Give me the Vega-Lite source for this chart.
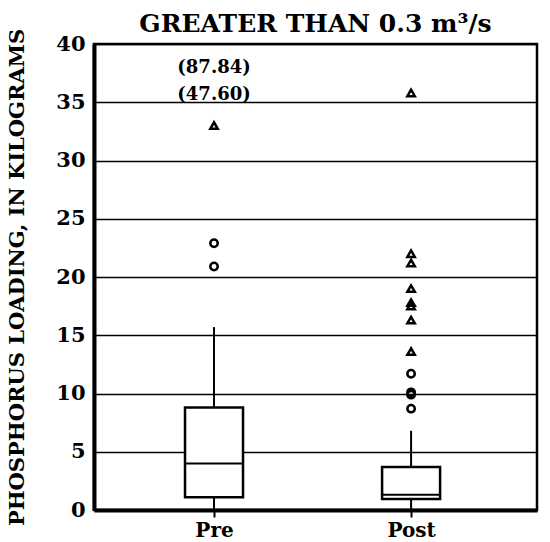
{
  "$schema": "https://vega.github.io/schema/vega-lite/v6.json",
  "width": 443,
  "height": 466,
  "autosize": {"type": "none"},
  "padding": {"left": 94, "top": 44, "right": 13, "bottom": 32},
  "background": "white",
  "title": {
    "text": "GREATER THAN 0.3 m³/s",
    "font": "DejaVu Serif",
    "fontSize": 25,
    "fontWeight": "bold",
    "color": "black",
    "anchor": "middle",
    "offset": -9
  },
  "config": {
    "view": {"stroke": "black", "strokeWidth": 2.5},
    "axis": {"labelFont": "DejaVu Serif", "labelFontWeight": "bold", "labelColor": "black", "titleFont": "DejaVu Serif", "titleFontWeight": "bold", "titleColor": "black"}
  },
  "datasets": {
    "boxes": [
      {"group": "Pre", "lower": 0, "q1": 1.1, "median": 4.0, "q3": 8.8, "upper": 15.7},
      {"group": "Post", "lower": 0, "q1": 0.95, "median": 1.3, "q3": 3.7, "upper": 6.8}
    ],
    "outliers": [
      {"group": "Pre", "value": 33.0, "kind": "triangle"},
      {"group": "Pre", "value": 22.9, "kind": "circle"},
      {"group": "Pre", "value": 20.9, "kind": "circle"},
      {"group": "Post", "value": 35.8, "kind": "triangle"},
      {"group": "Post", "value": 22.0, "kind": "triangle"},
      {"group": "Post", "value": 21.2, "kind": "triangle"},
      {"group": "Post", "value": 19.0, "kind": "triangle"},
      {"group": "Post", "value": 17.8, "kind": "triangle"},
      {"group": "Post", "value": 17.5, "kind": "triangle"},
      {"group": "Post", "value": 16.3, "kind": "triangle"},
      {"group": "Post", "value": 13.6, "kind": "triangle"},
      {"group": "Post", "value": 11.7, "kind": "circle"},
      {"group": "Post", "value": 10.1, "kind": "circle"},
      {"group": "Post", "value": 9.9, "kind": "circle"},
      {"group": "Post", "value": 8.7, "kind": "circle"}
    ],
    "notes": [
      {"group": "Pre", "label": "(87.84)", "level": 37.9},
      {"group": "Pre", "label": "(47.60)", "level": 35.6}
    ]
  },
  "encoding": {
    "x": {
      "field": "group",
      "type": "nominal",
      "sort": ["Pre", "Post"],
      "scale": {"type": "point", "domain": ["Pre", "Post"], "padding": 0.624, "align": 0.488},
      "axis": {"title": null, "labelAngle": 0, "labelFontSize": 20, "labelPadding": 3, "ticks": true, "tickSize": 7, "tickWidth": 2, "tickColor": "black", "domain": true, "domainColor": "black", "domainWidth": 4, "grid": false}
    }
  },
  "layer": [
    {
      "data": {"name": "boxes"},
      "mark": {"type": "rule", "color": "black", "strokeWidth": 2},
      "encoding": {
        "y": {"field": "lower", "type": "quantitative", "scale": {"domain": [0, 40]},
          "axis": {"title": "PHOSPHORUS LOADING, IN KILOGRAMS", "titleFontSize": 21, "titlePadding": 28, "values": [0,5,10,15,20,25,30,35,40], "labelFontSize": 21, "labelPadding": 9, "ticks": false, "domain": true, "domainColor": "black", "domainWidth": 4, "grid": true, "gridColor": "black", "gridWidth": 1.5, "gridOpacity": 1}},
        "y2": {"field": "upper"}
      }
    },
    {
      "data": {"name": "boxes"},
      "mark": {"type": "bar", "size": 58, "fill": "white", "stroke": "black", "strokeWidth": 2.5},
      "encoding": {
        "y": {"field": "q1", "type": "quantitative"},
        "y2": {"field": "q3"}
      }
    },
    {
      "data": {"name": "boxes"},
      "mark": {"type": "tick", "size": 58, "thickness": 2, "color": "black", "opacity": 1},
      "encoding": {
        "y": {"field": "median", "type": "quantitative"}
      }
    },
    {
      "data": {"name": "outliers"},
      "mark": {"type": "point", "filled": false, "stroke": "black", "strokeWidth": 2.5, "size": 55, "opacity": 1},
      "encoding": {
        "y": {"field": "value", "type": "quantitative"},
        "shape": {"field": "kind", "type": "nominal", "scale": {"domain": ["circle", "triangle"], "range": ["circle", "triangle-up"]}, "legend": null}
      }
    },
    {
      "data": {"name": "notes"},
      "mark": {"type": "text", "font": "DejaVu Serif", "fontWeight": "bold", "fontSize": 18, "color": "black", "baseline": "middle"},
      "encoding": {
        "y": {"field": "level", "type": "quantitative"},
        "text": {"field": "label"}
      }
    }
  ]
}
